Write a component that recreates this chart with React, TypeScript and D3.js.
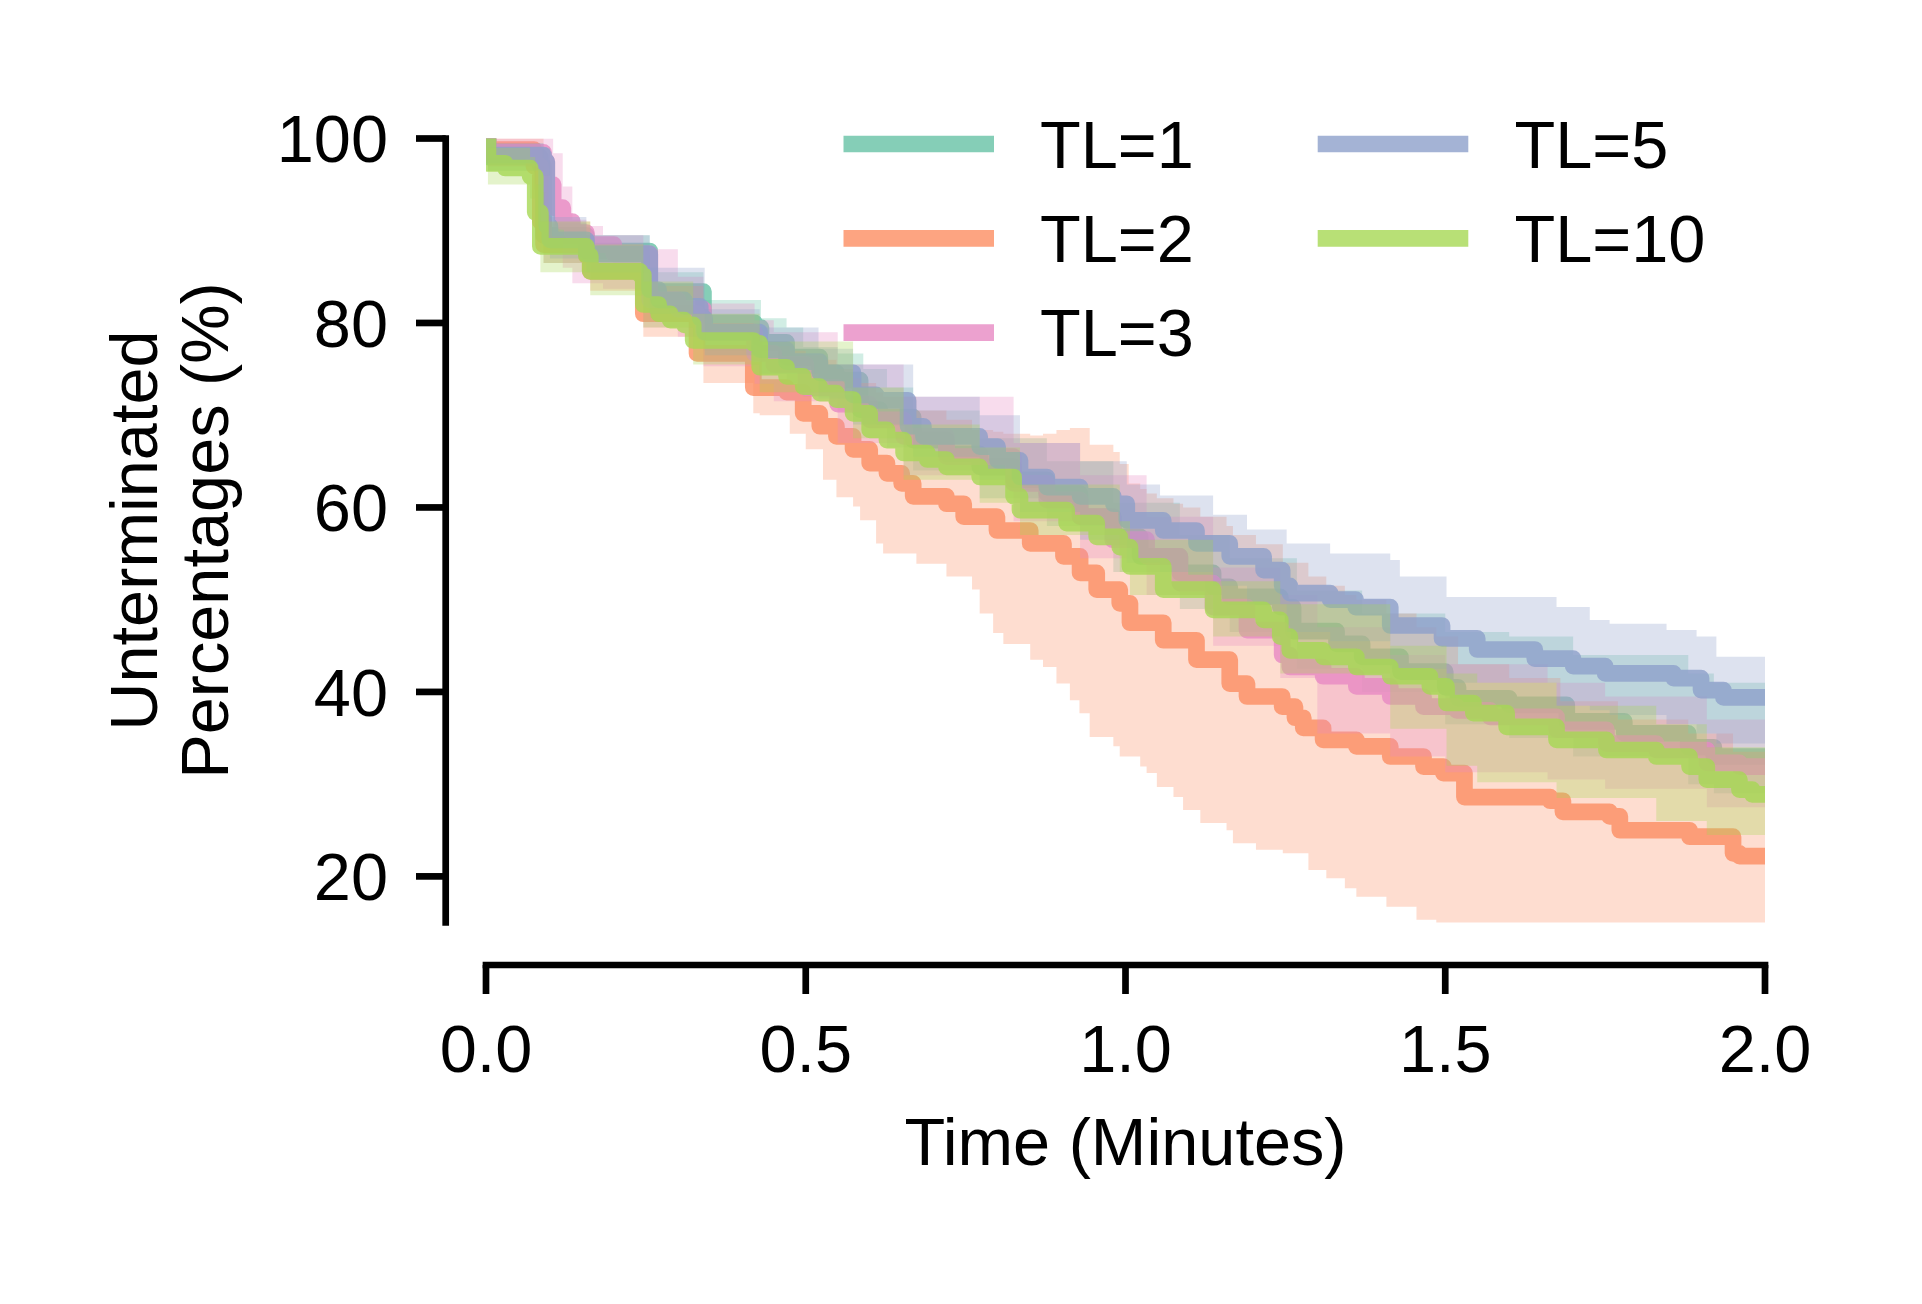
import * as d3 from "d3";

// ---------------- DATA ----------------

const seriesNames = ["TL=1", "TL=2", "TL=3", "TL=5", "TL=10"];
const seriesColors = ["#66c2a5", "#fc8d62", "#e78ac3", "#8da0cb", "#a6d854"];

const xTicks = [0, 0.5, 1.0, 1.5, 2.0];
const yTicks = [20, 40, 60, 80, 100];

// [time (min), survival %]
const tl1Line = [
  [0, 100], [0.003, 98], [0.085, 97], [0.09, 89.5], [0.157, 87.8], [0.256, 83.4], [0.34, 80],
  [0.42, 79.5], [0.43, 77.9], [0.47, 76.3], [0.522, 74.6], [0.548, 73.8], [0.585, 70.6],
  [0.616, 69.8], [0.668, 67.3], [0.72, 65.8], [0.772, 64.4], [0.825, 63], [0.877, 61.5],
  [0.929, 59], [0.981, 56.8], [1.023, 54.7], [1.085, 52.9], [1.137, 51.4], [1.163, 50.3],
  [1.242, 49.2], [1.262, 46.6], [1.33, 45.2], [1.37, 43.8], [1.43, 42.2], [1.5, 40.5],
  [1.52, 39.3], [1.6, 38.6], [1.69, 36.8], [1.78, 35.5], [1.88, 34], [1.92, 33],
];

const tl2Line = [
  [0, 100], [0.003, 98.8], [0.075, 97], [0.085, 91], [0.09, 88.5], [0.157, 87.3], [0.163, 85.6],
  [0.246, 81], [0.33, 76.7], [0.418, 73], [0.47, 72.5], [0.496, 70.2], [0.522, 68.8],
  [0.548, 67.7], [0.574, 66.3], [0.6, 64.8], [0.627, 63.7], [0.65, 62.6], [0.668, 61.2],
  [0.72, 60.4], [0.747, 59], [0.799, 57.5], [0.851, 56.1], [0.903, 54.7], [0.929, 52.9],
  [0.955, 51.1], [0.991, 49.6], [1.007, 47.5], [1.059, 45.6], [1.111, 43.5], [1.163, 40.9],
  [1.19, 39.5], [1.245, 38.4], [1.265, 37.2], [1.278, 36.1], [1.309, 34.8], [1.361, 34.1],
  [1.414, 33], [1.466, 31.9], [1.497, 31.2], [1.53, 28.6], [1.664, 28.2], [1.684, 27],
  [1.757, 26.5], [1.773, 25], [1.882, 24.3], [1.95, 22.5], [1.96, 22.2],
];

const tl3Line = [
  [0, 100], [0.003, 98.5], [0.09, 97.5], [0.095, 95], [0.105, 92.5], [0.12, 91], [0.135, 89.8],
  [0.157, 88.5], [0.2, 87.5], [0.256, 82.5], [0.3, 81.5], [0.34, 79], [0.42, 76.7], [0.45, 75.5],
  [0.5, 73], [0.55, 71.2], [0.6, 69.5], [0.653, 67.7], [0.72, 65.5], [0.825, 62.6], [0.877, 60.8],
  [0.929, 59], [0.98, 56.5], [1.033, 54.7], [1.085, 51.8], [1.137, 49.2], [1.19, 46.7],
  [1.245, 44], [1.257, 42.7], [1.309, 41.7], [1.361, 40.6], [1.414, 39.5], [1.466, 38.4],
  [1.518, 38], [1.57, 37.3], [1.674, 35.9], [1.752, 34.4], [1.83, 33.7], [1.909, 32.3], [1.96, 31.9],
];

const tl5Line = [
  [0, 100], [0.003, 98.2], [0.09, 97.5], [0.095, 90.5], [0.1, 89], [0.157, 87.5], [0.256, 83.6],
  [0.27, 82.5], [0.31, 81.8], [0.335, 80.5], [0.342, 79], [0.428, 77.1], [0.47, 75.8],
  [0.522, 74.6], [0.574, 72.2], [0.61, 71.6], [0.66, 68.8], [0.684, 67.7], [0.772, 66.6],
  [0.8, 65.1], [0.835, 63.3], [0.877, 62.2], [0.929, 61.2], [0.981, 60.4], [1.002, 58.6],
  [1.059, 57.5], [1.111, 56.1], [1.163, 54.7], [1.216, 53.2], [1.245, 51.5], [1.257, 50.7],
  [1.32, 50], [1.36, 49.2], [1.414, 47.2], [1.495, 45.8], [1.55, 44.6], [1.64, 43.6], [1.7, 42.8],
  [1.75, 42], [1.857, 41.5], [1.9, 40.2], [1.935, 39.4],
];

const tl10Line = [
  [0, 100], [0.003, 97.3], [0.03, 96.8], [0.069, 95.9], [0.077, 92], [0.085, 88.3], [0.157, 87.3],
  [0.163, 85.6], [0.241, 85.2], [0.246, 82], [0.27, 81], [0.288, 80.3], [0.31, 79.8], [0.324, 78.1],
  [0.418, 77.8], [0.428, 75.2], [0.47, 74.2], [0.496, 73.1], [0.522, 72.4], [0.548, 71.7],
  [0.574, 70.2], [0.6, 68.4], [0.627, 67.3], [0.653, 65.9], [0.69, 65.2], [0.72, 64.4],
  [0.772, 63.3], [0.825, 61.2], [0.835, 59.7], [0.908, 58.3], [0.955, 56.8], [0.991, 55.7],
  [1.007, 53.6], [1.059, 51.1], [1.137, 48.9], [1.216, 47.8], [1.242, 46], [1.257, 44.5],
  [1.309, 43.8], [1.361, 42.7], [1.414, 41.7], [1.476, 40.6], [1.502, 38.8], [1.544, 37.7],
  [1.596, 36.2], [1.674, 34.8], [1.752, 33.7], [1.83, 33], [1.882, 31.9], [1.909, 30.5],
  [1.96, 29.4], [1.98, 28.9],
];

// [time, lower %, upper %] confidence bands
const tl1Band = [
  [0, 100, 100], [0.003, 96.5, 99.5], [0.085, 95.5, 99], [0.09, 86.5, 90.8], [0.157, 85.5, 89.5],
  [0.256, 80.5, 85.5], [0.34, 77, 82.5], [0.43, 74.5, 80.5], [0.47, 73.5, 79.5], [0.496, 72, 77.4],
  [0.55, 70.5, 76.7], [0.59, 69, 75], [0.627, 66.5, 73], [0.668, 64, 70.5], [0.772, 61, 67.5],
  [0.877, 58, 65], [0.981, 53, 60.5], [1.085, 49, 57], [1.163, 46.5, 54.5], [1.268, 42.5, 51],
  [1.37, 40, 48.5], [1.5, 36.5, 46.5], [1.6, 35, 46], [1.7, 33, 44], [1.88, 30, 42], [1.92, 29, 41],
];

const tl2Band = [
  [0, 100, 100], [0.003, 97, 100], [0.075, 94.5, 100], [0.09, 86.5, 91], [0.163, 83.5, 88.5],
  [0.246, 78.5, 84], [0.34, 73.5, 80], [0.418, 70.2, 79.5], [0.428, 70, 77.5], [0.475, 68, 77],
  [0.5, 66.3, 76.5], [0.527, 63, 76], [0.548, 61.1, 75], [0.574, 60.1, 74], [0.585, 58.6, 73.5],
  [0.61, 56.1, 72.5], [0.621, 55, 72], [0.673, 53.9, 70.5], [0.72, 52.5, 69.5], [0.76, 51.1, 68.4],
  [0.772, 48.5, 68.4], [0.793, 46.4, 68.2], [0.809, 45.2, 68], [0.851, 43.5, 67.8],
  [0.871, 42.7, 68], [0.892, 40.9, 68.4], [0.913, 39.1, 68.6], [0.928, 37.7, 68.6],
  [0.944, 35.1, 66.8], [0.981, 34.1, 66], [0.991, 33, 64.7], [1.005, 33, 62.6], [1.023, 31.9, 62],
  [1.033, 31.2, 61.5], [1.049, 29.7, 61], [1.075, 28.6, 60.4], [1.09, 27.2, 60], [1.117, 25.8, 59],
  [1.158, 25, 58], [1.168, 23.6, 57], [1.204, 22.9, 56], [1.246, 22.5, 54], [1.286, 20.7, 52.5],
  [1.314, 19.8, 51.5], [1.343, 18.7, 50.5], [1.361, 17.8, 50], [1.408, 16.7, 48.5],
  [1.455, 15.3, 47], [1.486, 14.5, 46], [1.52, 14, 43], [1.6, 14, 41.5], [1.68, 14, 39],
  [1.77, 14, 37], [1.88, 14, 35.5], [1.95, 14, 33.5],
];

const tl3Band = [
  [0, 100, 100], [0.003, 97, 100], [0.09, 96, 100], [0.105, 89, 98.4], [0.12, 86, 94.8],
  [0.135, 84.3, 91.2], [0.157, 84.3, 90.5], [0.183, 83.7, 89.5], [0.246, 79.5, 88], [0.3, 78.5, 85],
  [0.34, 75.3, 82.1], [0.42, 73.4, 80.3], [0.45, 71.5, 79], [0.55, 67, 75.5], [0.653, 63.5, 72],
  [0.825, 58.5, 67], [0.929, 54.5, 63.5], [1.033, 50.5, 59], [1.137, 45, 53.5], [1.242, 41.5, 50.5],
  [1.3, 35.5, 47], [1.414, 33, 44], [1.5, 31.3, 43], [1.66, 30.5, 41], [1.75, 29.5, 39.5],
  [1.909, 27.5, 37],
];

const tl5Band = [
  [0, 100, 100], [0.003, 96.5, 99.5], [0.09, 96, 99], [0.1, 87, 91.5], [0.157, 85.5, 89.5],
  [0.256, 81, 86], [0.342, 76.5, 81.5], [0.428, 74.5, 79.5], [0.52, 71.8, 77.2], [0.574, 69, 75.5],
  [0.668, 65.5, 72], [0.772, 63, 70], [0.835, 59.5, 67], [0.929, 56.5, 65], [1.002, 54, 62.5],
  [1.054, 53, 61.3], [1.137, 51.5, 59.2], [1.19, 49.5, 57.6], [1.252, 46.5, 56.1], [1.32, 45.5, 55],
  [1.414, 42.5, 54.3], [1.429, 42.5, 52.5], [1.502, 41, 50.3], [1.674, 38.5, 49.2],
  [1.726, 38, 47.8], [1.757, 37.5, 47.4], [1.846, 36.5, 46.7], [1.893, 35.5, 46], [1.924, 34.4, 43.8],
];

const tl10Band = [
  [0, 100, 100], [0.003, 95, 99], [0.069, 93.5, 98], [0.077, 89, 95], [0.085, 85.5, 91],
  [0.163, 83, 88.5], [0.246, 79.5, 84.5], [0.324, 75.5, 81], [0.428, 72.5, 78], [0.574, 67.5, 73],
  [0.653, 63, 69], [0.772, 60.5, 66.5], [0.835, 57, 62.5], [0.991, 53, 58.5], [1.007, 50.5, 56.5],
  [1.137, 46, 52], [1.242, 42, 49.5], [1.414, 36, 45], [1.502, 32, 42], [1.55, 30.2, 41],
  [1.674, 28.5, 38.5], [1.83, 26, 36.5], [1.909, 24.5, 34],
];

const seriesLines = [tl1Line, tl2Line, tl3Line, tl5Line, tl10Line];
const seriesBands = [tl1Band, tl2Band, tl3Band, tl5Band, tl10Band];

// ---------------- LAYOUT ----------------

const W = 1922;
const H = 1304;
const plot = { left: 486, right: 1765, top: 138.5, bottom: 922.5 };
const ySpineX = 445.7;
const xSpineY = 965;
const FS = 66.7;
const LW = 16.7;
const SPINE = 6.7;
const FONT = "'Liberation Sans', Arial, Helvetica, sans-serif";

export default function App() {
  const x = d3.scaleLinear().domain([0, 2]).range([plot.left, plot.right]);
  const y = d3.scaleLinear().domain([15, 100]).range([plot.bottom, plot.top]);

  // carry the last step out past the right limit (it is clipped at the axes)
  const tEnd = 2.05;
  const extend = (arr: number[][]) => [...arr, [tEnd, ...arr[arr.length - 1].slice(1)]];

  const lineGen = d3
    .line<number[]>()
    .x((d) => x(d[0]))
    .y((d) => y(d[1]))
    .curve(d3.curveStepAfter);

  const areaGen = d3
    .area<number[]>()
    .x((d) => x(d[0]))
    .y0((d) => y(d[1]))
    .y1((d) => y(d[2]))
    .curve(d3.curveStepAfter);

  const legendRows = [144, 238.3, 332.6];
  const legendCols = [
    { x0: 843.5, x1: 994, tx: 1040 },
    { x0: 1317.7, x1: 1468.3, tx: 1514.5 },
  ];

  return (
    <div style={{ position: "absolute", left: 0, top: 0, width: W, height: H, background: "#fff" }}>
      <svg width={W} height={H} style={{ display: "block" }} fontFamily={FONT}>
        <defs>
          <clipPath id="plotClip">
            <rect x={plot.left} y={plot.top} width={plot.right - plot.left} height={plot.bottom - plot.top} />
          </clipPath>
        </defs>

        {/* curves + confidence bands, in plotting order */}
        <g clipPath="url(#plotClip)">
          {seriesNames.map((name, i) => (
            <g key={name}>
              <path
                d={lineGen(extend(seriesLines[i])) || ""}
                fill="none"
                stroke={seriesColors[i]}
                strokeOpacity={0.8}
                strokeWidth={LW}
                strokeLinejoin="round"
                strokeLinecap="square"
              />
              <path d={areaGen(extend(seriesBands[i])) || ""} fill={seriesColors[i]} fillOpacity={0.3} stroke="none" />
            </g>
          ))}
        </g>

        {/* y axis */}
        <line x1={ySpineX} x2={ySpineX} y1={plot.top} y2={plot.bottom} stroke="#000" strokeWidth={SPINE} strokeLinecap="square" />
        {yTicks.map((v) => (
          <g key={v}>
            <line x1={ySpineX - 29.7} x2={ySpineX} y1={y(v)} y2={y(v)} stroke="#000" strokeWidth={SPINE} />
            <text x={388} y={y(v) + 0.358 * FS} fontSize={FS} textAnchor="end" fill="#000">
              {v}
            </text>
          </g>
        ))}

        {/* x axis */}
        <line x1={plot.left} x2={plot.right} y1={xSpineY} y2={xSpineY} stroke="#000" strokeWidth={SPINE} strokeLinecap="square" />
        {xTicks.map((t) => (
          <g key={t}>
            <line x1={x(t)} x2={x(t)} y1={xSpineY} y2={xSpineY + 29} stroke="#000" strokeWidth={SPINE} />
            <text x={x(t)} y={1071.5} fontSize={FS} textAnchor="middle" fill="#000">
              {t.toFixed(1)}
            </text>
          </g>
        ))}

        {/* axis titles */}
        <text x={(plot.left + plot.right) / 2} y={1164.5} fontSize={FS} textAnchor="middle" fill="#000">
          Time (Minutes)
        </text>
        <text transform={`translate(157.3,${(plot.top + plot.bottom) / 2}) rotate(-90)`} fontSize={FS} textAnchor="middle" fill="#000">
          Unterminated
        </text>
        <text transform={`translate(228.3,${(plot.top + plot.bottom) / 2}) rotate(-90)`} fontSize={FS} textAnchor="middle" fill="#000">
          Percentages (%)
        </text>

        {/* legend: two columns */}
        {seriesNames.map((name, i) => {
          const col = legendCols[i < 3 ? 0 : 1];
          const ry = legendRows[i < 3 ? i : i - 3];
          return (
            <g key={"leg" + name}>
              <line x1={col.x0} x2={col.x1} y1={ry} y2={ry} stroke={seriesColors[i]} strokeOpacity={0.8} strokeWidth={LW} />
              <text x={col.tx} y={ry + 0.358 * FS} fontSize={FS} fill="#000">
                {name}
              </text>
            </g>
          );
        })}
      </svg>
    </div>
  );
}
